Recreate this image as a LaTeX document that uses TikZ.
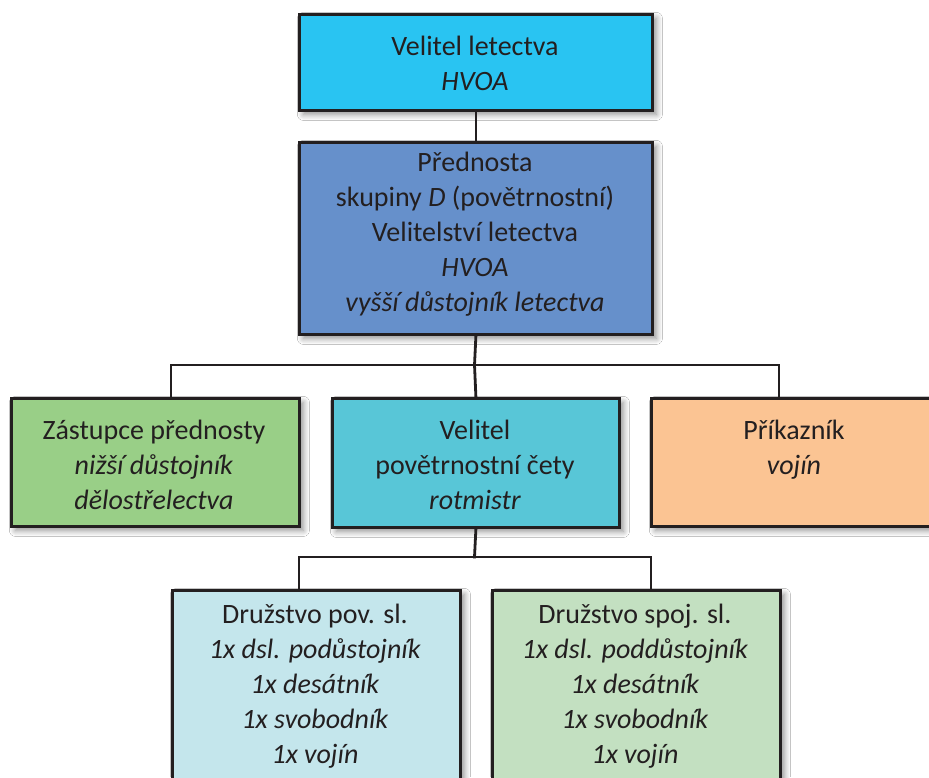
\documentclass[tikz,border=0pt]{standalone}
\usepackage{fontspec}
\setmainfont{Carlito}
\usetikzlibrary{shadows.blur}

\definecolor{inkdark}{HTML}{231F20}
\definecolor{cmdblue}{HTML}{29C4F2}
\definecolor{chiefblue}{HTML}{6690CB}
\definecolor{deputygreen}{HTML}{99CF87}
\definecolor{platoonteal}{HTML}{58C6D7}
\definecolor{orderlyorange}{HTML}{FBC493}
\definecolor{squadcyan}{HTML}{C4E6EC}
\definecolor{squadgreen}{HTML}{C3E0C1}

\tikzset{
  orgbox/.style={draw=inkdark, line width=1.4pt, rectangle, inner sep=0pt,
    blur shadow={shadow xshift=2pt, shadow yshift=-2pt, shadow blur radius=3pt,
      shadow blur steps=8, shadow opacity=45}},
  orgtext/.style={align=center, text=inkdark, inner sep=0pt,
    font=\fontsize{14}{17.5}\selectfont},
  link/.style={draw=inkdark, line width=1.4pt, line cap=rect}
}

\begin{document}
\begin{tikzpicture}[x=0.5pt, y=-0.5pt]
  \useasboundingbox (0,0) rectangle (929,777);
  \clip (0,0) rectangle (929,777);
  \fill[white] (0,0) rectangle (929,777);

  % bus lines and drop points
  \coordinate (busA) at (474.5,365);
  \coordinate (busAL) at (171,365);
  \coordinate (busAR) at (779,365);
  \coordinate (busB) at (474.5,557);
  \coordinate (busBL) at (299,557);
  \coordinate (busBR) at (651,557);

  % boxes
  \node[orgbox, fill=cmdblue, minimum width=353*0.5pt, minimum height=96*0.5pt,
        anchor=north west] (cmd) at (298,13) {};
  \node[orgbox, fill=chiefblue, minimum width=353*0.5pt, minimum height=192*0.5pt,
        anchor=north west] (chief) at (298,141) {};
  \node[orgbox, fill=deputygreen, minimum width=288*0.5pt, minimum height=128*0.5pt,
        anchor=north west] (deputy) at (10,397) {};
  \node[orgbox, fill=platoonteal, minimum width=287*0.5pt, minimum height=129*0.5pt,
        anchor=north west] (platoon) at (331,397) {};
  \node[orgbox, fill=orderlyorange, minimum width=288*0.5pt, minimum height=128*0.5pt,
        anchor=north west] (orderly) at (650,397) {};
  \node[orgbox, fill=squadcyan, minimum width=288*0.5pt, minimum height=240*0.5pt,
        anchor=north west] (weather) at (171,589) {};
  \node[orgbox, fill=squadgreen, minimum width=288*0.5pt, minimum height=240*0.5pt,
        anchor=north west] (signal) at (491,589) {};

  % connectors (drawn under the boxes' outlines by order of the tree)
  \path[link] (cmd.south) -- (chief.north);
  \path[link] (chief.south) -- (busA);
  \path[link] (busAL) -- (busAR);
  \path[link] (busAL) -- (busAL |- deputy.north);
  \path[link] (busA) -- (platoon.north);
  \path[link] (busAR) -- (busAR |- orderly.north);
  \path[link] (platoon.south) -- (busB);
  \path[link] (busBL) -- (busBR);
  \path[link] (busBL) -- (busBL |- weather.north);
  \path[link] (busBR) -- (busBR |- signal.north);

  % texts
  \node[orgtext] (cmdtxt) at (475,63) {Velitel letectva\\\textit{HVOA}};
  \node[orgtext] (chieftxt) at (475,234) {Přednosta\\skupiny \textit{D} (povětrnostní)\\Velitelství letectva\\\textit{HVOA}\\\textit{vyšší důstojník letectva}};
  \node[orgtext] (deputytxt) at (154,465) {Zástupce přednosty\\\textit{nižší důstojník}\\\textit{dělostřelectva}};
  \node[orgtext] (platoontxt) at (475,465) {Velitel\\povětrnostní čety\\\textit{rotmistr}};
  \node[orgtext] (orderlytxt) at (794,450) {Příkazník\\\textit{vojín}};
  \node[orgtext] (weathertxt) at (315,686) {Družstvo pov. sl.\\\textit{1x dsl. podůstojník}\\\textit{1x desátník}\\\textit{1x svobodník}\\\textit{1x vojín}};
  \node[orgtext] (signaltxt) at (635,686) {Družstvo spoj. sl.\\\textit{1x dsl. poddůstojník}\\\textit{1x desátník}\\\textit{1x svobodník}\\\textit{1x vojín}};
\end{tikzpicture}
\end{document}
